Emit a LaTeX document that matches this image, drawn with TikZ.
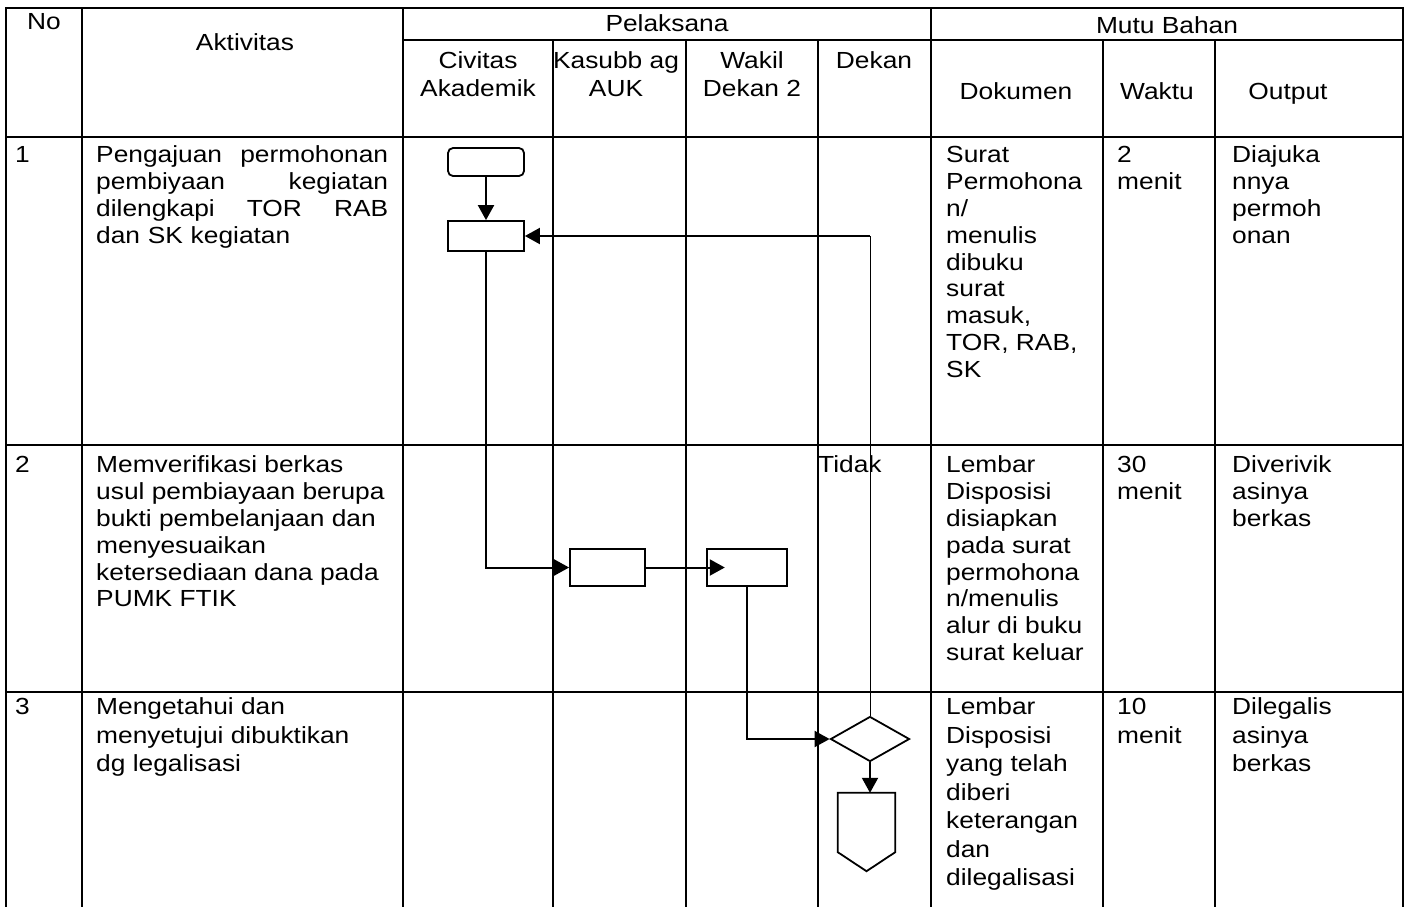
\documentclass[tikz,border=0pt]{standalone}
\usepackage{fontspec}
\setmainfont{Liberation Sans}[FakeStretch=1.13]
\usetikzlibrary{arrows.meta,positioning,shapes.geometric,calc}

\newcommand{\cellfont}{\fontsize{23.3}{26.8}\selectfont}
\newcommand{\loosefont}{\fontsize{23.3}{28.5}\selectfont}
\newcommand{\headfont}{\fontsize{23.3}{28}\selectfont}

\begin{document}
\begin{tikzpicture}[x=1pt,y=-1pt,
    grid/.style={line width=2pt,line cap=rect},
    txt/.style={inner sep=0pt,anchor=north west,align=left,font=\cellfont},
    head/.style={inner sep=0pt,align=center,font=\headfont},
    flowbox/.style={draw,line width=1.8pt,inner sep=0pt,minimum width=76pt,minimum height=30pt},
    flow/.style={line width=2pt,-{Triangle[length=15pt,width=16pt]}},
  ]
  \useasboundingbox (0,0) rectangle (1408,906);

  % table lines
  \draw[grid] (6,8) -- (1403,8);
  \draw[grid] (403,40) -- (1403,40);
  \foreach \y in {137,445,692} {
    \draw[grid] (6,\y) -- (1403,\y);
  }
  \foreach \x in {6,82,403,931,1403} {
    \draw[grid] (\x,8) -- (\x,906);
  }
  \foreach \x in {553,686,818,1103,1215} {
    \draw[grid] (\x,40) -- (\x,906);
  }

  % header
  \node[head,anchor=base] (hno) at (44,29) {No};
  \node[head,anchor=base] (hakt) at (245,50) {Aktivitas};
  \node[head,anchor=base] (hpel) at (667,31) {Pelaksana};
  \node[head,anchor=base] (hmutu) at (1167,33) {Mutu Bahan};
  \node[head,anchor=north] (hciv) at (478,48.4) {\strut Civitas\\Akademik};
  \node[head,anchor=north] (hkas) at (616,48.4) {\strut Kasubb ag\\AUK};
  \node[head,anchor=north] (hwak) at (752,48.4) {\strut Wakil\\Dekan 2};
  \node[head,anchor=base] (hdek) at (874,68) {Dekan};
  \node[head,anchor=base] (hdok) at (1016,99) {Dokumen};
  \node[head,anchor=base] (hwkt) at (1157,99) {Waktu};
  \node[head,anchor=base] (hout) at (1288,99) {Output};

  % row 1
  \node[txt] (no1) at (15,144) {\strut 1};
  \node[txt,text width=292pt] (akt1) at (96,144) {\strut Pengajuan\hfill permohonan\\
    pembiyaan\hfill kegiatan\\ dilengkapi\hfill TOR\hfill RAB\\ dan SK kegiatan};
  \node[txt] (dok1) at (946,144) {\strut Surat\\Permohona\\n/\\menulis\\dibuku\\surat\\masuk,\\TOR, RAB,\\SK};
  \node[txt] (wkt1) at (1117,144) {\strut 2\\menit};
  \node[txt] (out1) at (1232,144) {\strut Diajuka\\nnya\\permoh\\onan};

  % row 2
  \node[txt] (no2) at (15,454) {\strut 2};
  \node[txt] (akt2) at (96,454) {\strut Memverifikasi berkas\\usul pembiayaan berupa\\bukti pembelanjaan dan\\menyesuaikan\\ketersediaan dana pada\\PUMK FTIK};
  \node[txt] (tidak) at (818,454) {\strut Tidak};
  \node[txt] (dok2) at (946,454) {\strut Lembar\\Disposisi\\disiapkan\\pada surat\\permohona\\n/menulis\\alur di buku\\surat keluar};
  \node[txt] (wkt2) at (1117,454) {\strut 30\\menit};
  \node[txt] (out2) at (1232,454) {\strut Diverivik\\asinya\\berkas};

  % row 3
  \node[txt,font=\loosefont] (no3) at (15,694.7) {\strut 3};
  \node[txt,font=\loosefont] (akt3) at (96,694.7) {\strut Mengetahui dan\\menyetujui dibuktikan\\dg legalisasi};
  \node[txt,font=\loosefont] (dok3) at (946,694.7) {\strut Lembar\\Disposisi\\yang telah\\diberi\\keterangan\\dan\\dilegalisasi};
  \node[txt,font=\loosefont] (wkt3) at (1117,694.7) {\strut 10\\menit};
  \node[txt,font=\loosefont] (out3) at (1232,694.7) {\strut Dilegalis\\asinya\\berkas};

  % flow
  \node[flowbox,rounded corners=5pt,minimum height=28pt] (start) at (486,162) {};
  \node[flowbox] (box1) at (486,236) {};
  \node[flowbox,minimum width=75pt,minimum height=37pt] (boxa) at (607.5,567.5) {};
  \node[flowbox,minimum width=80pt,minimum height=37pt] (boxb) at (746.7,567.5) {};
  \node[draw,diamond,line width=1.8pt,inner sep=0pt,minimum width=79pt,minimum height=45pt] (dec) at (870,739) {};
  \node[inner sep=0pt,minimum width=57pt,minimum height=78pt] (endp) at (866.5,832) {};
  \draw[line width=1.8pt] (endp.north west) -- (endp.north east) -- ($(endp.south east)+(0,-19)$)
    -- (endp.south) -- ($(endp.south west)+(0,-19)$) -- cycle;

  \draw[flow] (start) -- (box1);
  \draw[flow] (box1.south) |- (boxa.west);
  \draw[flow] (boxa.east) -- ([xshift=19pt]boxb.west);
  \draw[flow] (boxb.south) |- (dec.west);
  \coordinate (turn) at (dec.north |- box1.east);
  \draw[line width=1pt] (dec.north) -- (turn);
  \draw[flow] (turn) -- (box1.east);
  \draw[flow] (dec.south) -- (dec.south |- endp.north);
\end{tikzpicture}
\end{document}
